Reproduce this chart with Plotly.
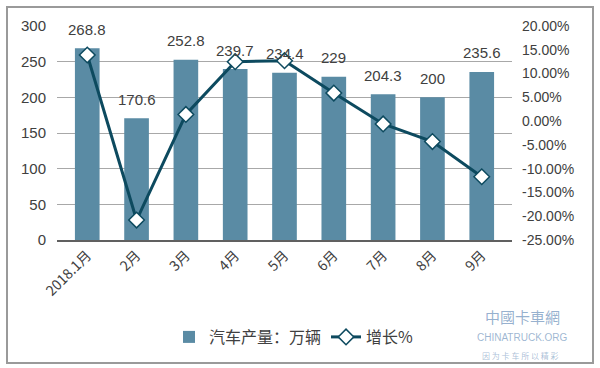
import plotly.graph_objects as go

categories = ["2018.1月", "2月", "3月", "4月", "5月", "6月", "7月", "8月", "9月"]
production = [268.8, 170.6, 252.8, 239.7, 234.4, 229, 204.3, 200, 235.6]
growth = [13.9, -20.8, 1.4, 12.5, 12.7, 5.9, -0.6, -4.3, -11.7]
bar_labels = ["268.8", "170.6", "252.8", "239.7", "234.4", "229", "204.3", "200", "235.6"]
left_ticks = [0, 50, 100, 150, 200, 250, 300]
right_ticks = [-25, -20, -15, -10, -5, 0, 5, 10, 15, 20]
right_tick_text = ["-25.00%", "-20.00%", "-15.00%", "-10.00%", "-5.00%", "0.00%",
                   "5.00%", "10.00%", "15.00%", "20.00%"]

W, H = 600, 368
L, R, T, B = 57, 88, 26, 128

BAR = "#5a8ba4"
LINE = "#0d4a5f"
TXT = "#404040"
FONT = "Liberation Sans, Arial, sans-serif"
CJK = "Noto Sans CJK SC, Liberation Sans, sans-serif"

fig = go.Figure()
fig.add_trace(go.Bar(
    x=categories, y=production, name="汽车产量：万辆",
    marker=dict(color=BAR, line=dict(width=0)),
    yaxis="y",
))
fig.add_trace(go.Scatter(
    x=categories, y=growth, name="增长%", mode="lines+markers",
    line=dict(color=LINE, width=3),
    marker=dict(symbol="diamond", size=12, color="white", line=dict(color=LINE, width=1.5)),
    yaxis="y2",
))

annotations = []
for c, v, t in zip(categories, production, bar_labels):
    annotations.append(dict(
        x=c, y=v, xref="x", yref="y", text=t, showarrow=False,
        yanchor="middle", yshift=19, font=dict(family=FONT, size=15, color=TXT),
    ))

pw = W - L - R
ph = H - T - B
def px(x):
    return (x - L) / pw
def py(y):
    return 1 - (y - T) / ph

# watermark
annotations += [
    dict(x=px(522), y=py(316), xref="paper", yref="paper", text="中國卡車網", showarrow=False,
         xanchor="center", yanchor="middle",
         font=dict(family=CJK, size=15, color="rgba(60,110,165,0.55)")),
    dict(x=px(522), y=py(337), xref="paper", yref="paper", text="CHINATRUCK.ORG", showarrow=False,
         xanchor="center", yanchor="middle",
         font=dict(family=FONT, size=10, color="rgba(60,110,165,0.5)")),
    dict(x=px(520), y=py(355), xref="paper", yref="paper", text="因 为 卡 车 所 以 精 彩", showarrow=False,
         xanchor="center", yanchor="middle",
         font=dict(family=CJK, size=8, color="rgba(60,110,165,0.45)")),
]

shapes = [
    dict(type="rect", xref="paper", yref="paper",
         x0=px(7), x1=px(593), y0=py(363), y1=py(7),
         line=dict(color="#9a9a9a", width=2), fillcolor="rgba(0,0,0,0)", layer="above"),
]

fig.update_layout(
    width=W, height=H,
    margin=dict(l=L, r=R, t=T, b=B),
    plot_bgcolor="white", paper_bgcolor="white",
    bargap=0.5,
    showlegend=True,
    legend=dict(orientation="h", xref="container", yref="container", x=0.49, y=1 - 337 / H,
                xanchor="center", yanchor="middle",
                font=dict(family=CJK, size=16, color=TXT),
                itemwidth=30, tracegroupgap=0, bgcolor="rgba(0,0,0,0)"),
    xaxis=dict(tickangle=-45, tickfont=dict(family=CJK, size=14, color=TXT),
               showline=True, linecolor="#606060", linewidth=1.5, ticks="",
               showgrid=False),
    yaxis=dict(range=[0, 300], tickvals=left_ticks,
               showgrid=True, gridcolor="#a8a8a8", gridwidth=1,
               tickfont=dict(family=FONT, size=15, color=TXT), zeroline=False,
               showline=False, ticks="", ticklabelstandoff=10),
    yaxis2=dict(range=[-25, 20], overlaying="y", side="right",
                tickmode="array", tickvals=right_ticks, ticktext=right_tick_text,
                showgrid=False, zeroline=False,
                tickfont=dict(family=FONT, size=14, color=TXT), ticks="",
                ticklabelstandoff=9),
    annotations=annotations,
    shapes=shapes,
)

fig.write_html("out.html", config={"displayModeBar": False},
               post_script="document.body.style.margin='0';document.body.style.overflow='hidden';")
